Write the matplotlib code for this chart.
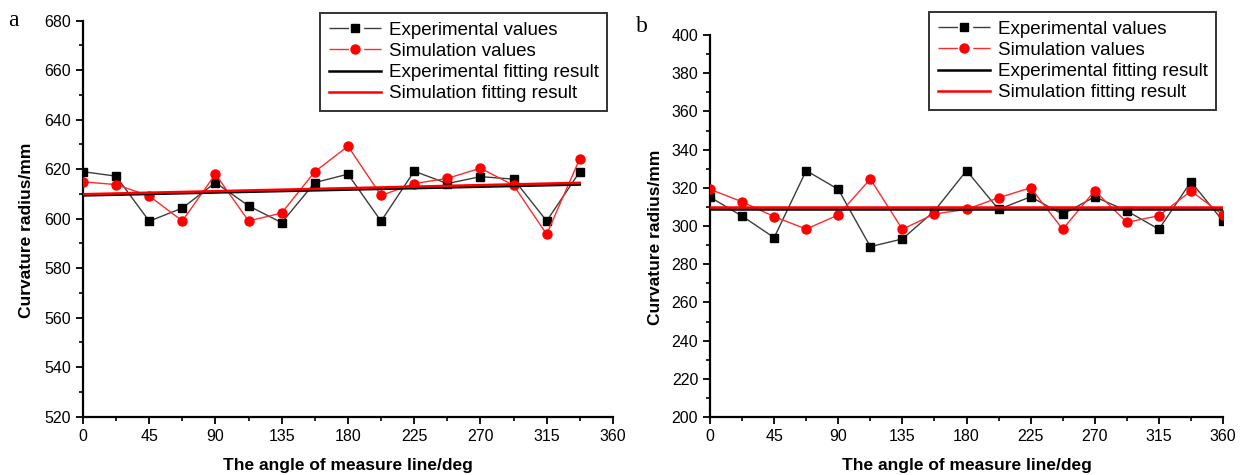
import matplotlib
matplotlib.use('Agg')
from matplotlib import pyplot as plt
from matplotlib.lines import Line2D
from matplotlib.ticker import MultipleLocator

plt.rcParams['font.family'] = ['Liberation Sans', 'DejaVu Sans']

# measure line angles (deg)
angles_a = [0, 22.5, 45, 67.5, 90, 112.5, 135, 157.5, 180, 202.5, 225, 247.5, 270, 292.5, 315, 337.5]
angles_b = angles_a + [360]

# panel a: curvature radius (mm)
exp_a = [619.0, 617.2, 599.0, 604.3, 614.6, 605.2, 598.4, 614.6, 618.0, 599.0,
         619.2, 614.2, 617.0, 616.0, 599.1, 619.0]
sim_a = [614.9, 613.8, 609.2, 599.1, 618.0, 599.1, 602.3, 619.0, 629.3, 609.4,
         614.2, 616.3, 620.4, 613.5, 593.7, 624.3]
fit_x_a = [0, 337.5]
fit_exp_a = [609.4, 613.8]
fit_sim_a = [609.9, 614.5]

# panel b: curvature radius (mm)
exp_b = [315.1, 305.2, 293.9, 329.0, 319.2, 289.2, 293.2, 307.9, 329.0, 308.7,
         315.3, 306.1, 315.3, 307.9, 298.3, 323.2, 302.6]
sim_b = [319.2, 312.7, 304.9, 298.4, 305.8, 324.6, 298.3, 306.3, 308.7, 314.8,
         320.0, 298.3, 318.5, 301.9, 305.4, 318.3, 305.8]
fit_x_b = [0, 360]
fit_exp_b = [309.1, 309.1]
fit_sim_b = [310.1, 310.1]

labels = ['Experimental values', 'Simulation values',
          'Experimental fitting result', 'Simulation fitting result']

EXP_LINE = '#3c3c3c'
SIM_LINE = '#ff2a2a'
W, H = 1240, 475


def draw_panel(ax, x, exp, sim, fit_x, fit_exp, fit_sim, ylim, legend_anchor, xlab_y):
    ax.plot(x, exp, color=EXP_LINE, lw=1.0, marker='s', ms=6,
            mfc='black', mec='black', zorder=3)
    ax.plot(x, sim, color=SIM_LINE, lw=1.0, marker='o', ms=6.5,
            mfc='red', mec='red', zorder=3)
    ax.plot(fit_x, fit_exp, color='black', lw=1.8, zorder=4)
    ax.plot(fit_x, fit_sim, color='red', lw=1.8, zorder=4)

    ax.set_xlim(0, 360)
    ax.set_ylim(*ylim)
    ax.xaxis.set_major_locator(MultipleLocator(45))
    ax.xaxis.set_minor_locator(MultipleLocator(22.5))
    ax.yaxis.set_major_locator(MultipleLocator(20))
    ax.yaxis.set_minor_locator(MultipleLocator(10))

    # only left and bottom axis lines
    ax.spines['top'].set_visible(False)
    ax.spines['right'].set_visible(False)
    ax.spines['left'].set_linewidth(1.6)
    ax.spines['bottom'].set_linewidth(1.6)
    ax.tick_params(which='major', direction='out', length=5, width=1.3, labelsize=11.5)
    ax.tick_params(which='minor', direction='out', length=3, width=1.2)

    ax.set_xlabel('The angle of measure line/deg', fontsize=12.5, fontweight='bold')
    ax.set_ylabel('Curvature radius/mm', fontsize=12.5, fontweight='bold')
    ax.xaxis.set_label_coords(0.5, xlab_y)
    ax.yaxis.set_label_coords(-0.092, 0.47)

    # legend handles drawn like the original: dash - marker - dash
    handles = [
        Line2D([], [], color=EXP_LINE, lw=1.0, ls=(0, (14, 11)), marker='s', ms=6,
               mfc='black', mec='black'),
        Line2D([], [], color=SIM_LINE, lw=1.0, ls=(0, (14, 11)), marker='o', ms=6.5,
               mfc='red', mec='red'),
        Line2D([], [], color='black', lw=1.8),
        Line2D([], [], color='red', lw=1.8),
    ]
    leg = ax.legend(handles, labels, loc='upper right', bbox_to_anchor=legend_anchor,
                    bbox_transform=ax.transAxes, fontsize=13.5, frameon=True,
                    fancybox=False, handlelength=2.8, handletextpad=0.4,
                    labelspacing=0.22, borderpad=0.45, borderaxespad=0)
    leg.get_frame().set_edgecolor('black')
    leg.get_frame().set_linewidth(1.4)


fig = plt.figure(figsize=(W / 100, H / 100), dpi=100)
ax_a = fig.add_axes([0.0669, 0.1227, 0.4274, 0.8337])
ax_b = fig.add_axes([0.5726, 0.1221, 0.4137, 0.8042])

draw_panel(ax_a, angles_a, exp_a, sim_a, fit_x_a, fit_exp_a, fit_sim_a,
           (520, 680), (0.989, 1.019), -0.105)
draw_panel(ax_b, angles_b, exp_b, sim_b, fit_x_b, fit_exp_b, fit_sim_b,
           (200, 400), (0.986, 1.060), -0.108)

# panel letters
fig.text(8 / W, 1 - 21 / H, 'a', fontsize=17, family='Liberation Serif', va='center')
fig.text(636 / W, 1 - 26 / H, 'b', fontsize=17, family='Liberation Serif', va='center')

fig.savefig('out.png', dpi=100)
